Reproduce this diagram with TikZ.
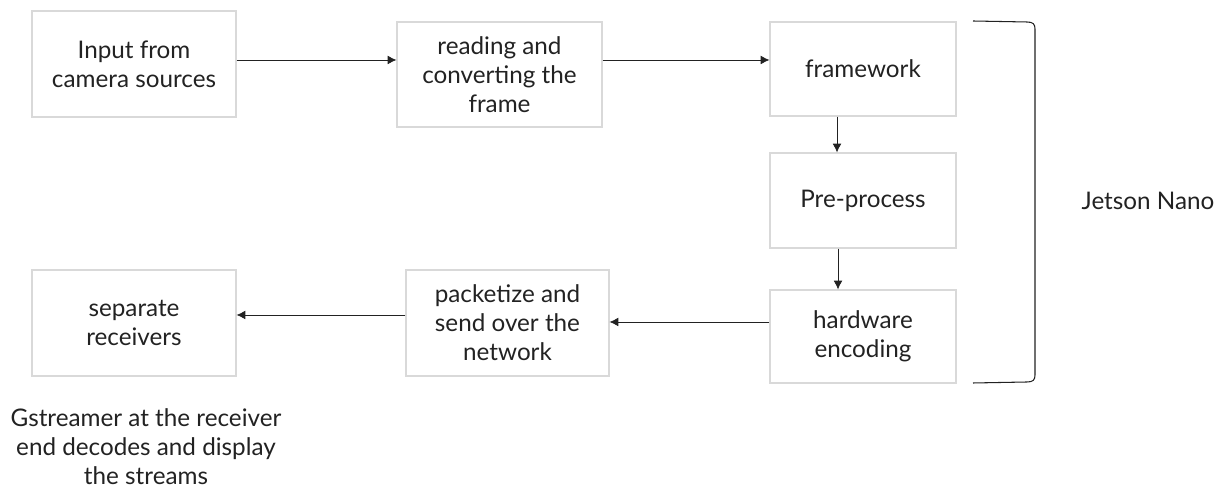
\documentclass[tikz,border=0pt]{standalone}
\usepackage{fontspec}
\setmainfont{Lato}
\usepackage{tikz}
\usetikzlibrary{arrows.meta}

\definecolor{boxgray}{HTML}{D9D9D9}
\definecolor{txtgray}{HTML}{222222}

\begin{document}
\begin{tikzpicture}[x=0.02cm, y=-0.02cm,
		stage/.style={draw=boxgray, line width=0.6pt, align=center, text=txtgray,
			font=\fontsize{13.8}{16.5}\selectfont, inner sep=0pt},
		flow/.style={-{Latex[length=5pt, width=5pt]}, draw=txtgray, line width=0.5pt}]
		\useasboundingbox (0, 0) rectangle (1232, 492);

		\node[stage, minimum width=204*0.02cm, minimum height=106*0.02cm] (input) at (134, 64) {Input from\\camera sources};
		\node[stage, minimum width=205*0.02cm, minimum height=105*0.02cm] (reading) at (499.5, 74.5) {reading and\\converting the\\frame};
		\node[stage, minimum width=186*0.02cm, minimum height=94*0.02cm] (framework) at (863, 69) {framework};
		\node[stage, minimum width=186*0.02cm, minimum height=95*0.02cm] (preproc) at (863, 200.5) {Pre-process};
		\node[stage, minimum width=186*0.02cm, minimum height=93*0.02cm] (encoding) at (863, 336.5) {hardware\\encoding};
		\node[stage, minimum width=203*0.02cm, minimum height=106*0.02cm] (packet) at (507.5, 323) {packetize and\\send over the\\network};
		\node[stage, minimum width=204*0.02cm, minimum height=106*0.02cm] (receivers) at (134, 323) {separate\\receivers};

		\draw[flow] (input.east |- 0, 60) -- (reading.west |- 0, 60);
		\draw[flow] (reading.east |- 0, 60) -- (framework.west |- 0, 60);
		\draw[flow] (framework.south -| 837, 0) -- (preproc.north -| 837, 0);
		\draw[flow] (preproc.south -| 838, 0) -- (encoding.north -| 838, 0);
		\draw[flow] (encoding.west |- 0, 322) -- (packet.east |- 0, 322);
		\draw[flow] (packet.west |- 0, 315) -- (receivers.east |- 0, 315);

		% bracket round the Jetson side
		\draw[txtgray, line width=0.6pt] (973, 21) -- (1027, 22) .. controls (1033, 22) and (1035, 24) .. (1035, 29)
			-- (1035, 375) .. controls (1035, 380) and (1033, 382) .. (1027, 382) -- (973, 383);
		\node[text=txtgray, font=\fontsize{13.8}{16.5}\selectfont] (jetson) at (1148, 201) {Jetson Nano};

		\node[text=txtgray, align=center, font=\fontsize{13.8}{16.5}\selectfont] (gst) at (146, 447) {Gstreamer at the receiver\\end decodes and display\\the streams};
	\end{tikzpicture}
\end{document}
